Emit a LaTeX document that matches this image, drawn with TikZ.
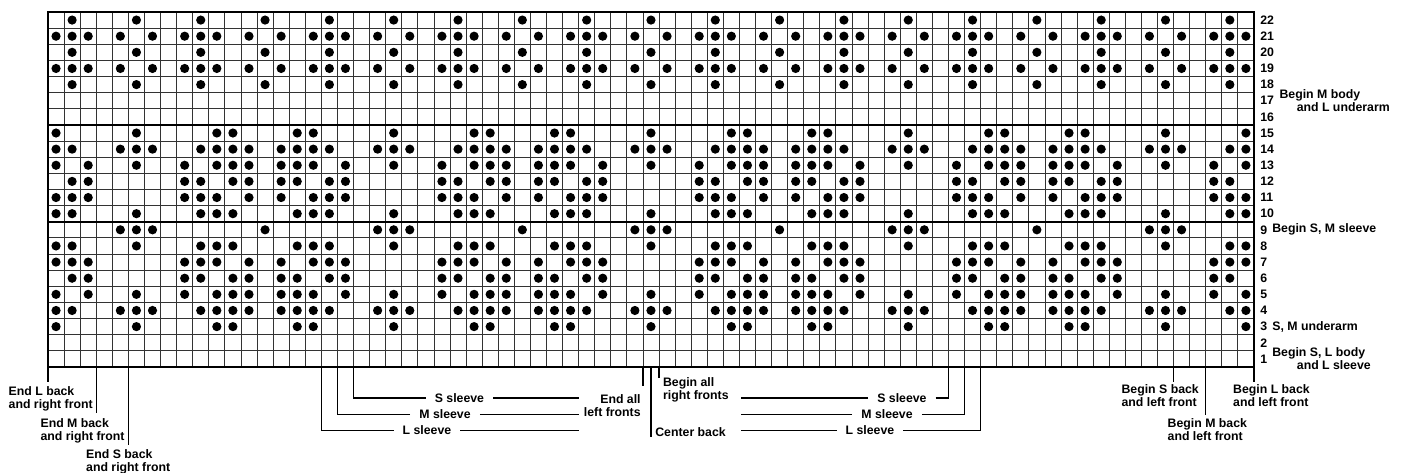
\documentclass[tikz,border=0pt]{standalone}
\usepackage{fontspec}
\setmainfont{Liberation Sans}
\usepackage{tikz}
\usetikzlibrary{positioning}

\begin{document}
\begin{tikzpicture}[
        x=0.3216cm, y=0.3227cm,
        lbl/.style={font=\fontsize{7}{7.3}\selectfont\bfseries, inner sep=0pt, align=left},
        sleeve/.style={lbl, inner xsep=5pt, inner ysep=0pt},
        rownum/.style={font=\fontsize{7}{7.3}\selectfont\bfseries, inner sep=0pt, anchor=west},
        leader/.style={line width=0.8pt},
        gridline/.style={line width=0.45pt, black!80},
        heavy/.style={line width=0.9pt},
        stitch/.style={fill=black}
    ]
    \useasboundingbox (-2.985,-6.569) rectangle (84.27,22.744);

    % chart grid
    \foreach \i in {1,...,74} \draw[gridline] (\i,0) -- (\i,22);
    \foreach \j in {1,...,21} \draw[gridline] (0,\j) -- (75,\j);
    \draw[heavy] (0,15) -- (75,15) (0,9) -- (75,9);
    \draw[line width=1.3pt] (0,0) rectangle (75,22);

    % stitches, repeat of 16
    \foreach \r/\res in {3/{0,5,10,11,15}, 4/{0,1,4,5,6,9,10,11,12,14,15},
            5/{0,2,5,8,10,11,12,14,15}, 6/{1,2,8,9,11,12,14,15},
            7/{0,1,2,8,9,10,12,14}, 8/{0,1,5,9,10,11,15}, 9/{4,5,6,13},
            10/{0,1,5,9,10,11,15}, 11/{0,1,2,8,9,10,12,14},
            12/{1,2,8,9,11,12,14,15}, 13/{0,2,5,8,10,11,12,14,15},
            14/{0,1,4,5,6,9,10,11,12,14,15}, 15/{0,5,10,11,15},
            18/{1,5,9,13}, 19/{0,1,2,4,6,8,9,10,12,14}, 20/{1,5,9,13},
            21/{0,1,2,4,6,8,9,10,12,14}, 22/{1,5,9,13}}
        \foreach \k in {0,16,32,48,64}
            \foreach \m in \res {
                \pgfmathtruncatemacro\col{\k+\m}
                \ifnum\col<75 \fill[stitch] (\col+0.5,\r-0.5) circle[radius=0.092cm]; \fi
            };

    % row numbers
    \foreach \r in {1,...,22} \node[rownum] (row\r) at (75.37,\r-0.5) {\r};

    \node[lbl, anchor=west] (mbody) at (76.57,16.52) {Begin M body\\\hspace*{1.4em}and L underarm};
    \node[lbl, anchor=west] (smsleeve) at (76.12,8.5) {Begin S, M sleeve};
    \node[lbl, anchor=west] (smunder) at (76.12,2.5) {S, M underarm};
    \node[lbl, anchor=west] (slbody) at (76.12,0.5) {Begin S, L body\\\hspace*{2em}and L sleeve};

    % leader feet on the bottom edge
    \foreach \i in {0,3,5,17,18,19,37,38,56,57,58,70,72,75} \coordinate (b\i) at (\i,0);
    \coordinate (bc) at (37.5,0);
    \coordinate (lend) at (33.02,0);
    \coordinate (rend) at (43.08,0);

    \node[lbl] (endl) at (0.17,-1.98) {End L back\\and right front};
    \node[lbl] (endm) at (2.15,-3.94) {End M back\\and right front};
    \node[lbl] (ends) at (4.99,-5.89) {End S back\\and right front};
    \draw[leader] (b0) -- ++(0,-0.93);
    \draw[leader] (b3) -- ++(0,-2.85);
    \draw[leader] (b5) -- ++(0,-4.83);

    \node[lbl] (begs) at (69.17,-1.77) {Begin S back\\and left front};
    \node[lbl] (begm) at (72.1,-3.88) {Begin M back\\and left front};
    \node[lbl] (begl) at (76.09,-1.77) {Begin L back\\and left front};
    \draw[leader] (b70) -- ++(0,-0.93);
    \draw[leader] (b72) -- ++(0,-2.97);
    \draw[leader] (b75) -- ++(0,-0.93);

    \node[sleeve] (ssl) at (25.59,-1.92) {S sleeve};
    \node[sleeve] (msl) at (24.69,-2.93) {M sleeve};
    \node[sleeve] (lsl) at (23.57,-3.94) {L sleeve};
    \draw[leader] (ssl.west) -| (b19);
    \draw[leader] (msl.west) -| (b18);
    \draw[leader] (lsl.west) -| (b17);
    \draw[leader] (ssl.east) -- (ssl.east -| lend);
    \draw[leader] (msl.east) -- (msl.east -| lend);
    \draw[leader] (lsl.east) -- (lsl.east -| lend);

    \node[sleeve] (ssr) at (53.11,-1.92) {S sleeve};
    \node[sleeve] (msr) at (52.18,-2.93) {M sleeve};
    \node[sleeve] (lsr) at (51.12,-3.94) {L sleeve};
    \draw[leader] (ssr.east) -| (b56);
    \draw[leader] (msr.east) -| (b57);
    \draw[leader] (lsr.east) -| (b58);
    \draw[leader] (ssr.west) -- (ssr.west -| rend);
    \draw[leader] (msr.west) -- (msr.west -| rend);
    \draw[leader] (lsr.west) -- (lsr.west -| rend);

    \node[lbl, align=right, anchor=east] (endall) at (36.88,-2.42) {End all\\left fronts};
    \node[lbl, anchor=west] (cback) at (37.75,-4.05) {Center back};
    \node[lbl, anchor=north west] (begall) at (38.23,-0.64) {Begin all\\right fronts};
    \draw[leader] (b37) -- ++(0,-1.2);
    \draw[leader] (bc) -- (bc |- cback.south);
    \draw[leader] (b38) -- ++(0,-0.68);
\end{tikzpicture}
\end{document}
